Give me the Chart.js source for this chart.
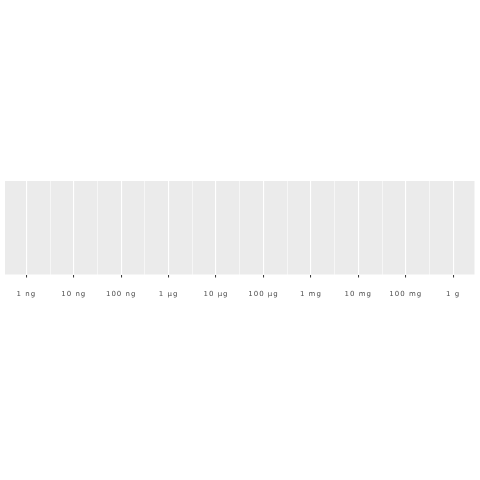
<!DOCTYPE html>
<html><head><meta charset="utf-8">
<script src="https://cdn.jsdelivr.net/npm/chart.js@4"></script>
<style>html,body{margin:0;padding:0;background:#fff}#w{width:480px;height:480px}</style>
</head><body><div id="w"><canvas id="c" width="480" height="480"></canvas></div>
<script>
const tickLabels = ['1 ng','10 ng','100 ng','1 µg','10 µg','100 µg','1 mg','10 mg','100 mg','1 g'];
const tickValues = [-9,-8,-7,-6,-5,-4,-3,-2,-1,0];
const minorValues = [-9.5,-8.5,-7.5,-6.5,-5.5,-4.5,-3.5,-2.5,-1.5,-0.5,0.5];
const xMin = -9.45, xMax = 0.45;

const allTicks = tickValues.map(v=>({value:v,major:true}))
  .concat(minorValues.filter(v=>v>xMin&&v<xMax).map(v=>({value:v,major:false})))
  .sort((a,b)=>a.value-b.value);
const isMajor = v => tickValues.includes(v);

const panelBg = {
  id:'panelBg',
  beforeDraw(chart){
    const {ctx, chartArea:a} = chart;
    try{ ctx.letterSpacing='1px'; }catch(e){}
    ctx.save(); ctx.fillStyle='#EBEBEB';
    ctx.fillRect(a.left,a.top,a.right-a.left,a.bottom-a.top);
    ctx.restore();
  }
};

new Chart(document.getElementById('c'), {
  type:'scatter',
  data:{datasets:[{data:[]}]},
  plugins:[panelBg],
  options:{
    responsive:false, animation:false,
    layout:{padding:{left:5,right:5.5,top:181,bottom:165.5}},
    plugins:{legend:{display:false},tooltip:{enabled:false}},
    scales:{
      x:{
        type:'linear', min:xMin, max:xMax,
        afterBuildTicks(s){ s.ticks = allTicks.map(t=>({value:t.value})); },
        afterFit(s){ s.height = 40; },
        border:{display:false},
        grid:{
          color:'#FFFFFF',
          lineWidth:c=> isMajor(c.tick.value)?1.1:0.55,
          drawTicks:true, tickLength:3,
          tickColor:c=> isMajor(c.tick.value)?'#333333':'rgba(0,0,0,0)',
          tickWidth:1
        },
        ticks:{
          autoSkip:false, maxRotation:0, padding:12,
          color:'#4D4D4D', font:{family:'DejaVu Sans',size:7},
          callback:(v)=>{ const i = tickValues.indexOf(v); return i>=0?tickLabels[i]:''; }
        }
      },
      y:{display:false,min:0,max:1}
    }
  }
});
</script></body></html>
